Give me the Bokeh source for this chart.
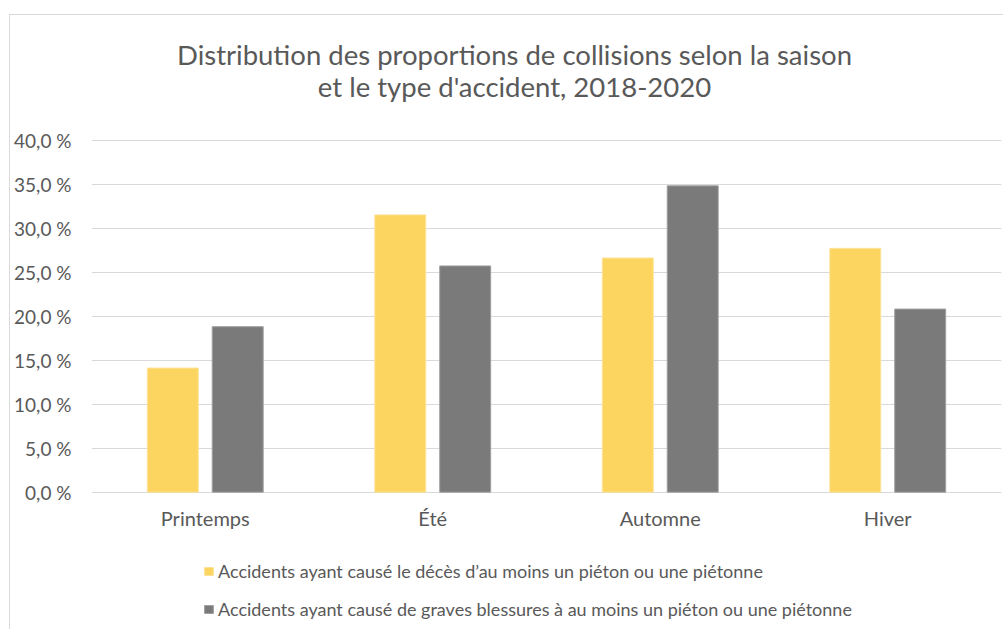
from bokeh.plotting import figure
from bokeh.models import (ColumnDataSource, FactorRange, Range1d, FixedTicker, Label,
                          Legend, LegendItem)
from bokeh.transform import dodge
from bokeh.embed import file_html
from bokeh.resources import INLINE

seasons = ["Printemps", "Été", "Automne", "Hiver"]
deces = [14.1, 31.5, 26.6, 27.7]
blessures = [18.8, 25.7, 34.8, 20.8]
series_names = [
    "Accidents ayant causé le décès d\u2019au moins un piéton ou une piétonne",
    "Accidents ayant causé de graves blessures à au moins un piéton ou une piétonne",
]
y_ticks = [0, 5, 10, 15, 20, 25, 30, 35, 40]
y_tick_labels = ["0,0 %", "5,0 %", "10,0 %", "15,0 %", "20,0 %", "25,0 %", "30,0 %", "35,0 %", "40,0 %"]
title_lines = ["Distribution des proportions de collisions selon la saison",
               "et le type d'accident, 2018-2020"]

YELLOW = "#FCD560"
GRAY = "#7A7A7A"
TXT = "#595959"
FONT = "Lato"

src = ColumnDataSource(dict(season=seasons, deces=deces, blessures=blessures))

# the frame covers the whole canvas height so that title and legend can live inside it
p = figure(x_range=FactorRange(*seasons, range_padding=0), y_range=Range1d(-15.6, 54.15),
           width=993, height=614, frame_width=910, frame_height=614,
           min_border_left=81, min_border_right=2, min_border_top=0, min_border_bottom=0,
           output_backend="svg", toolbar_location=None, outline_line_color=None,
           margin=(14, 0, 0, 9),
           styles={"border-left": "1px solid #D9D9D9", "border-top": "1px solid #D9D9D9"})

r1 = p.vbar(x=dodge("season", -0.1427, range=p.x_range), top="deces", width=0.224,
            source=src, fill_color=YELLOW, line_color="#FDE39A")
r2 = p.vbar(x=dodge("season", 0.1427, range=p.x_range), top="blessures", width=0.224,
            source=src, fill_color=GRAY, line_color="#A0A0A0")

p.yaxis.ticker = FixedTicker(ticks=y_ticks)
p.yaxis.major_label_overrides = {t: l for t, l in zip(y_ticks, y_tick_labels)}
for ax in (p.xaxis[0], p.yaxis[0]):
    ax.axis_line_color = None
    ax.major_tick_line_color = None
    ax.minor_tick_line_color = None
    ax.major_label_text_color = TXT
    ax.major_label_text_font = FONT
p.yaxis.major_label_text_font_size = "19px"
p.xaxis.major_label_text_font_size = "20px"
p.yaxis.major_label_standoff = 14
p.xaxis.major_label_standoff = 8
p.xaxis.fixed_location = 0

p.xgrid.grid_line_color = None
p.ygrid.grid_line_color = "#D9D9D9"
p.ygrid.grid_line_width = 1

for t, yy in zip(title_lines, [38, 70]):
    p.add_layout(Label(x=503, y=yy, x_units="canvas", y_units="canvas", text=t,
                       text_align="center", text_baseline="alphabetic",
                       text_font=FONT, text_font_size="27.5px", text_color=TXT))

legend = Legend(items=[LegendItem(label=series_names[0], renderers=[r1]),
                       LegendItem(label=series_names[1], renderers=[r2])],
                location=(112, 9), orientation="vertical",
                glyph_width=11, glyph_height=10, label_text_font=FONT,
                label_text_font_size="18px", label_text_color=TXT,
                padding=0, margin=0, spacing=16, label_standoff=4,
                border_line_color=None, background_fill_alpha=0)
p.add_layout(legend, "center")

open("out.html", "w").write(file_html(p, INLINE))
